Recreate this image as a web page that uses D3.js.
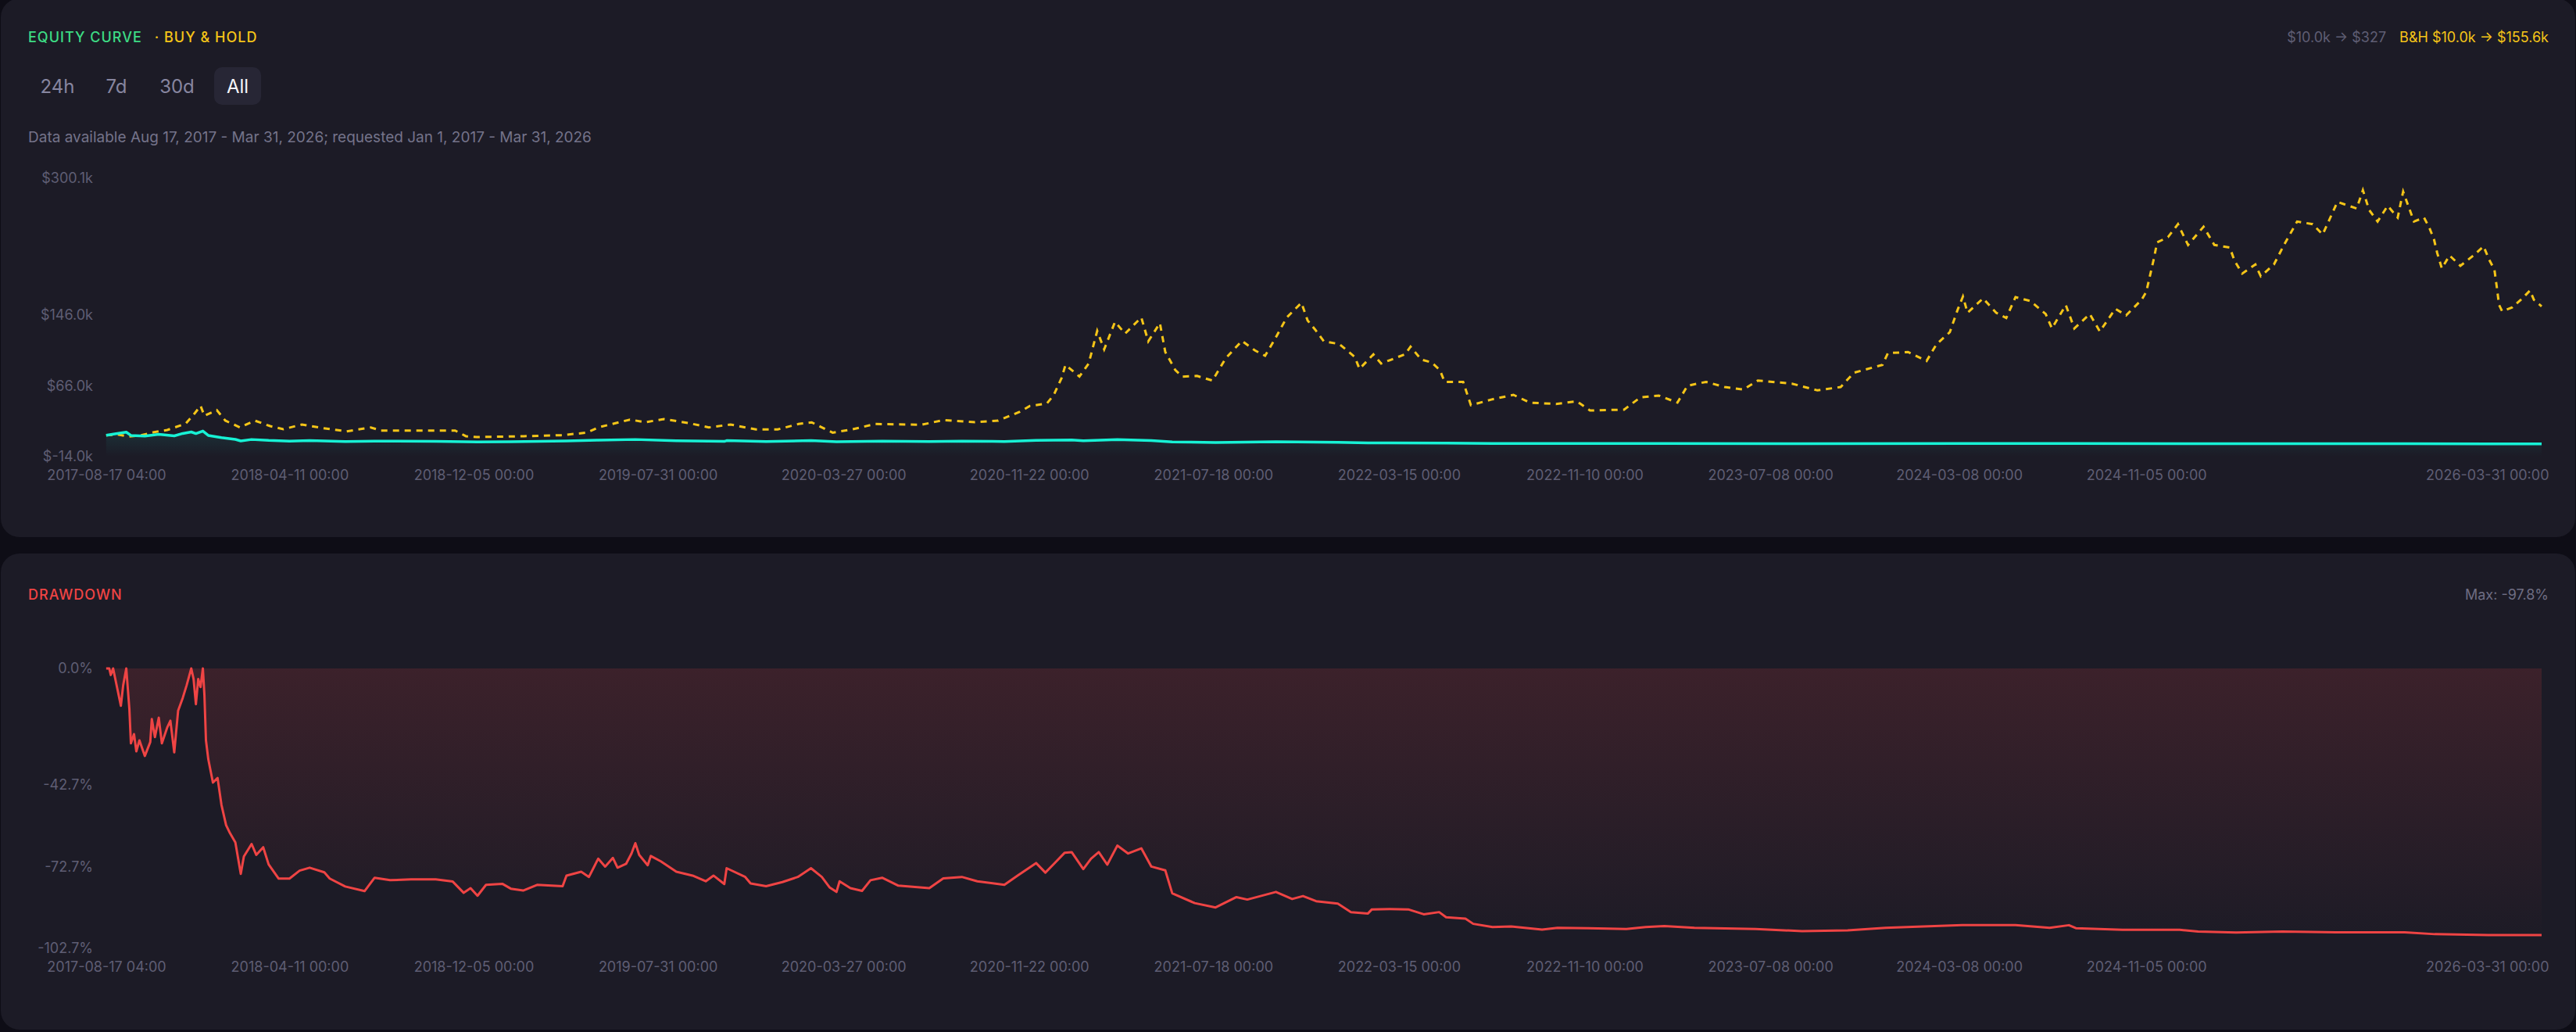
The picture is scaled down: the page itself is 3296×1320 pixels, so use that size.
<!DOCTYPE html>
<html>
<head>
<meta charset="utf-8">
<script src="https://cdn.jsdelivr.net/npm/d3@7"></script>
<style>
body { margin: 0; background: #0e0d16; }
svg { display: block; font-family: Inter, "Noto Sans", sans-serif; }
</style>
</head>
<body>
<svg id="chart" width="3296" height="1320"></svg>
<script>
// buy & hold value, $k
var bhDates = ["2017-08-17","2017-09-01","2017-09-15","2017-10-01","2017-10-18","2017-11-04","2017-11-28","2017-12-10","2017-12-17","2017-12-22",
    "2018-01-07","2018-01-18","2018-02-06","2018-02-25","2018-03-17","2018-04-03","2018-04-27","2018-05-25","2018-06-24","2018-07-25",
    "2018-08-07","2018-09-25","2018-11-11","2018-11-25","2018-12-09","2019-02-08","2019-03-28","2019-04-30","2019-05-15","2019-06-25",
    "2019-07-15","2019-08-08","2019-09-08","2019-10-05","2019-11-02","2019-12-05","2020-01-02","2020-01-29","2020-02-15","2020-03-13",
    "2020-04-07","2020-05-07","2020-06-21","2020-07-06","2020-08-03","2020-09-13","2020-10-13","2020-11-10","2020-11-23","2020-12-15",
    "2020-12-24","2021-01-03","2021-01-08","2021-01-26","2021-02-07","2021-02-18","2021-02-27","2021-03-13","2021-03-26","2021-04-16",
    "2021-04-25","2021-05-10","2021-05-17","2021-05-30","2021-06-08","2021-06-27","2021-07-17","2021-08-03","2021-08-24","2021-09-10",
    "2021-09-23","2021-10-06","2021-10-21","2021-11-09","2021-11-17","2021-11-27","2021-12-08","2021-12-28","2022-01-17","2022-01-23",
    "2022-02-10","2022-02-20","2022-03-23","2022-03-30","2022-04-13","2022-04-26","2022-05-07","2022-05-13","2022-06-06","2022-06-16",
    "2022-07-14","2022-08-10","2022-08-31","2022-10-04","2022-10-31","2022-11-17","2022-12-31","2023-01-21","2023-02-14","2023-03-10",
    "2023-03-23","2023-04-16","2023-05-10","2023-06-03","2023-06-22","2023-08-05","2023-09-07","2023-10-07","2023-10-24","2023-11-30",
    "2023-12-07","2024-01-02","2024-01-26","2024-02-08","2024-02-25","2024-03-06","2024-03-13","2024-03-19","2024-04-08","2024-04-25",
    "2024-05-08","2024-05-20","2024-06-08","2024-06-28","2024-07-06","2024-07-24","2024-08-04","2024-08-24","2024-09-06","2024-09-26",
    "2024-10-10","2024-10-30","2024-11-05","2024-11-15","2024-11-19","2024-12-03","2024-12-16","2024-12-29","2025-01-18","2025-02-01",
    "2025-02-21","2025-02-27","2025-03-09","2025-03-26","2025-04-02","2025-04-19","2025-05-02","2025-05-19","2025-06-08","2025-06-21",
    "2025-07-10","2025-08-04","2025-08-12","2025-08-20","2025-08-31","2025-09-13","2025-09-26","2025-10-03","2025-10-17","2025-10-30",
    "2025-11-06","2025-11-12","2025-11-16","2025-11-22","2025-12-02","2025-12-16","2026-01-02","2026-01-15","2026-01-22","2026-01-29",
    "2026-02-01","2026-02-04","2026-02-08","2026-02-21","2026-03-06","2026-03-16","2026-03-21","2026-03-31"];
var bhValues = [10.0,11.0,8.6,10.0,13.6,16.0,23.3,35.4,43.4,32.0,
    38.5,26.6,18.9,26.6,20.4,16.9,22.2,18.0,14.5,18.9,
    15.4,15.4,15.4,9.0,8.1,9.0,10.1,13.0,18.9,27.7,
    24.8,28.3,24.0,18.9,22.2,16.6,16.6,22.8,24.6,13.0,
    16.6,22.8,22.2,21.9,27.2,24.8,26.6,36.6,43.1,46.0,
    55.7,74.8,89.5,76.3,91.0,127.8,107.0,138.0,124.8,143.0,
    116.0,136.6,104.0,83.6,76.3,77.0,71.8,96.8,116.6,105.7,
    99.8,119.0,143.0,159.5,139.5,129.0,116.0,113.0,98.4,85.0,
    101.3,91.0,101.5,110.0,95.4,92.4,83.6,70.3,70.3,44.0,
    50.7,55.7,46.9,45.4,48.4,38.0,39.0,52.8,54.8,46.9,
    66.0,70.3,64.5,61.6,71.8,68.3,60.7,64.5,80.6,89.5,
    102.7,104.0,93.9,113.0,126.3,151.3,166.6,148.3,164.5,148.3,
    142.4,166.0,161.6,146.9,130.7,157.0,130.7,146.9,127.2,152.8,
    145.4,163.0,171.9,210.0,227.7,233.6,248.3,224.8,245.4,224.8,
    221.9,207.2,192.5,202.8,189.5,202.8,224.8,251.3,248.3,236.6,
    273.4,266.0,286.6,264.4,251.3,269.0,255.7,285.0,251.3,255.7,
    244.0,230.8,216.0,198.4,213.0,201.3,213.0,223.3,208.6,196.9,
    177.8,157.2,150.0,154.4,164.5,173.4,163.0,155.6];

// strategy equity, $k
var eqDates = ["2017-08-17","2017-08-28","2017-09-12","2017-09-18","2017-10-06","2017-10-24","2017-11-13","2017-11-24","2017-12-05","2017-12-11",
    "2017-12-20","2017-12-27","2018-01-13","2018-01-31","2018-02-07","2018-02-21","2018-03-15","2018-04-11","2018-05-07","2018-06-22",
    "2018-07-30","2018-10-17","2018-12-10","2019-01-22","2019-04-04","2019-05-15","2019-07-02","2019-08-24","2019-10-25","2019-10-28",
    "2019-12-18","2020-02-14","2020-03-18","2020-05-16","2020-07-16","2020-08-27","2020-10-21","2020-12-01","2021-01-16","2021-01-31",
    "2021-03-16","2021-04-29","2021-05-26","2021-07-21","2021-10-07","2021-12-26","2022-02-03","2022-05-15","2022-07-14","2022-11-15",
    "2023-02-21","2023-08-18","2024-03-12","2024-08-06","2025-03-01","2025-10-05","2026-01-21","2026-03-31"];
var eqValues = [10.0,11.5,13.6,9.9,9.2,11.1,9.4,12.1,13.8,12.0,
    14.8,9.9,7.4,5.4,3.6,5.3,4.2,3.4,4.0,3.0,
    3.4,3.3,2.5,2.8,3.6,4.5,5.3,3.8,3.1,4.0,
    3.0,4.0,2.7,3.4,2.9,3.5,3.0,4.2,4.8,3.9,
    5.2,4.0,2.6,1.8,2.7,2.0,1.5,1.29,0.75,0.70,
    0.81,0.53,0.86,0.70,0.46,0.47,0.33,0.327];

// drawdown, %
var ddDates = ["2017-08-17","2017-08-21","2017-08-23","2017-08-26","2017-09-05","2017-09-08","2017-09-12","2017-09-16","2017-09-18","2017-09-22",
    "2017-09-25","2017-09-29","2017-10-06","2017-10-13","2017-10-15","2017-10-19","2017-10-24","2017-10-28","2017-11-04","2017-11-08",
    "2017-11-13","2017-11-18","2017-11-24","2017-11-29","2017-12-05","2017-12-08","2017-12-11","2017-12-14","2017-12-17","2017-12-20",
    "2017-12-22","2017-12-24","2017-12-27","2018-01-02","2018-01-08","2018-01-13","2018-01-19","2018-01-24","2018-01-31","2018-02-07",
    "2018-02-11","2018-02-21","2018-02-27","2018-03-08","2018-03-15","2018-03-28","2018-04-11","2018-04-24","2018-05-07","2018-05-26",
    "2018-06-02","2018-06-22","2018-07-17","2018-07-30","2018-08-19","2018-09-15","2018-10-17","2018-11-08","2018-11-22","2018-12-01",
    "2018-12-10","2018-12-21","2019-01-11","2019-01-22","2019-02-07","2019-02-25","2019-03-30","2019-04-04","2019-04-23","2019-05-03",
    "2019-05-15","2019-05-24","2019-06-03","2019-06-09","2019-06-20","2019-06-27","2019-07-02","2019-07-07","2019-07-18","2019-07-22",
    "2019-08-04","2019-08-24","2019-09-14","2019-10-01","2019-10-11","2019-10-25","2019-10-28","2019-11-21","2019-11-28","2019-12-18",
    "2020-01-08","2020-01-28","2020-02-14","2020-02-28","2020-03-09","2020-03-18","2020-03-22","2020-04-05","2020-04-20","2020-05-01",
    "2020-05-16","2020-06-06","2020-07-16","2020-08-03","2020-08-27","2020-09-16","2020-10-21","2020-11-07","2020-12-01","2020-12-13",
    "2020-12-24","2021-01-07","2021-01-16","2021-01-31","2021-02-10","2021-02-20","2021-03-03","2021-03-16","2021-03-30","2021-04-16",
    "2021-04-29","2021-05-17","2021-05-26","2021-06-24","2021-07-21","2021-08-17","2021-08-31","2021-10-07","2021-10-28","2021-11-11",
    "2021-11-28","2021-12-26","2022-01-12","2022-02-03","2022-02-08","2022-03-03","2022-03-27","2022-04-16","2022-05-06","2022-05-15",
    "2022-06-09","2022-06-19","2022-07-14","2022-08-07","2022-09-16","2022-10-06","2022-11-15","2023-01-03","2023-01-28","2023-02-21",
    "2023-04-01","2023-06-19","2023-08-18","2023-10-16","2023-12-04","2024-01-22","2024-03-12","2024-05-20","2024-07-03","2024-07-28",
    "2024-08-06","2024-10-05","2024-12-18","2025-01-11","2025-03-01","2025-04-30","2025-07-08","2025-10-05","2025-11-13","2026-01-21",
    "2026-03-31"];
var ddValues = [0,0,-2.4,0,-13.7,-6.2,0,-14.9,-27.5,-24.1,
    -30.4,-26.4,-32.1,-27.0,-18.6,-25.2,-18.1,-27.5,-21.6,-19.2,
    -30.8,-15.5,-10.8,-6.2,0,-3.9,-13.1,-3.9,-6.8,0,
    -9.7,-26.4,-33.3,-41.9,-40.2,-50.0,-57.5,-60.4,-63.8,-75.4,
    -69.0,-64.4,-68.4,-65.6,-71.9,-77.1,-77.1,-74.2,-73.1,-74.8,
    -77.1,-80.0,-81.7,-76.8,-77.7,-77.4,-77.4,-78.2,-82.3,-80.6,
    -83.4,-79.4,-79.0,-80.8,-81.5,-79.4,-79.9,-76.0,-74.6,-76.5,
    -69.8,-72.7,-69.5,-73.1,-71.7,-67.9,-64.1,-68.4,-72.2,-68.8,
    -70.8,-74.6,-76.0,-78.1,-76.0,-79.1,-73.3,-76.5,-78.9,-79.9,
    -78.4,-76.5,-73.3,-76.5,-80.3,-82.0,-78.1,-80.6,-81.6,-77.7,
    -76.8,-79.7,-80.6,-77.0,-76.5,-78.1,-79.4,-76.0,-71.4,-74.9,
    -71.7,-67.6,-67.4,-73.6,-69.8,-67.4,-72.0,-65.0,-67.9,-66.0,
    -72.7,-74.1,-82.5,-86.1,-87.7,-83.9,-84.8,-82.0,-84.6,-83.5,
    -85.4,-86.3,-89.4,-89.9,-88.4,-88.3,-88.4,-90.2,-89.4,-91.3,
    -91.8,-93.7,-94.9,-94.7,-95.8,-95.2,-95.3,-95.6,-94.9,-94.5,
    -95.2,-95.6,-96.4,-96.1,-95.2,-94.7,-94.2,-94.2,-95.2,-94.2,
    -95.3,-95.9,-95.9,-96.5,-96.9,-96.5,-96.8,-96.8,-97.5,-97.8,
    -97.8];

var xTickLabels = ["2017-08-17 04:00","2018-04-11 00:00","2018-12-05 00:00","2019-07-31 00:00","2020-03-27 00:00",
    "2020-11-22 00:00","2021-07-18 00:00","2022-03-15 00:00","2022-11-10 00:00","2023-07-08 00:00",
    "2024-03-08 00:00","2024-11-05 00:00","2026-03-31 00:00"];
var equityTicks = [-14.0, 66.0, 146.0, 300.1];
var ddTicks = [0, -42.7, -72.7, -102.7];
var ranges = ["24h", "7d", "30d", "All"];

var parseDay = d3.utcParse("%Y-%m-%d"),
    parseTick = d3.utcParse("%Y-%m-%d %H:%M"),
    fmtTick = d3.utcFormat("%Y-%m-%d %H:%M");

var svg = d3.select("#chart");
var defs = svg.append("defs");

var x = d3.scaleUtc()
    .domain([parseTick(xTickLabels[0]), parseTick(xTickLabels[xTickLabels.length - 1])])
    .range([136, 3252]);
var yEq = d3.scaleLinear().domain([-14.0, 300.1]).range([584, 228]);
var yDD = d3.scaleLinear().domain([-102.7, 0]).range([1213, 855]);

var zip = function(dates, values) {
    return dates.map(function(d, i) { return { date: parseDay(d), value: values[i] }; });
};
var bh = zip(bhDates, bhValues),
    eq = zip(eqDates, eqValues),
    dd = zip(ddDates, ddValues);

// panels
svg.append("rect").attr("x", 1).attr("y", -2).attr("width", 3294).attr("height", 689)
    .attr("rx", 24).attr("fill", "#1c1b26");
svg.append("rect").attr("x", 1).attr("y", 708).attr("width", 3294).attr("height", 609)
    .attr("rx", 24).attr("fill", "#1c1b26");

// header, top panel
var title = svg.append("text").attr("x", 36).attr("y", 47).attr("dominant-baseline", "central")
    .attr("font-size", 18).attr("font-weight", 500).attr("letter-spacing", 1);
title.append("tspan").attr("fill", "#3ddc84").text("EQUITY CURVE");
title.append("tspan").attr("fill", "#f5c518").attr("dx", 16).text("· BUY & HOLD");

var summary = svg.append("text").attr("x", 3261).attr("y", 47).attr("dominant-baseline", "central")
    .attr("text-anchor", "end").attr("font-size", 18);
summary.append("tspan").attr("fill", "#5f5e74").text("$10.0k → $327");
summary.append("tspan").attr("fill", "#f5c518").attr("dx", 17).text("B&H $10.0k → $155.6k");

var btnX = [73.5, 149, 226.5, 304];
svg.append("rect").attr("x", 274).attr("y", 86).attr("width", 60).attr("height", 48)
    .attr("rx", 10).attr("fill", "#272635");
svg.selectAll(".range")
    .data(ranges)
  .enter()
    .append("text")
    .attr("class", "range")
    .attr("x", function(d, i) { return btnX[i]; })
    .attr("y", 110)
    .attr("text-anchor", "middle")
    .attr("dominant-baseline", "central")
    .attr("font-size", 24)
    .attr("fill", function(d) { return d === "All" ? "#f4f4f8" : "#8786a0"; })
    .text(function(d) { return d; });

svg.append("text").attr("x", 36).attr("y", 175).attr("dominant-baseline", "central")
    .attr("font-size", 19).attr("fill", "#74738a")
    .text("Data available Aug 17, 2017 - Mar 31, 2026; requested Jan 1, 2017 - Mar 31, 2026");

// header, drawdown panel
svg.append("text").attr("x", 36).attr("y", 760).attr("dominant-baseline", "central")
    .attr("font-size", 18).attr("font-weight", 500).attr("letter-spacing", 1)
    .attr("fill", "#ef4444").text("DRAWDOWN");
svg.append("text").attr("x", 3261).attr("y", 760).attr("dominant-baseline", "central")
    .attr("text-anchor", "end").attr("font-size", 18).attr("fill", "#6e6d82")
    .text("Max: -97.8%");

// axes
var drawX = function(yPos) {
    var g = svg.append("g").attr("transform", "translate(0," + yPos + ")")
        .call(d3.axisBottom(x).tickValues(xTickLabels.map(parseTick)).tickSize(0).tickPadding(0).tickFormat(fmtTick));
    g.attr("font-family", null).attr("font-size", 18);
    g.select(".domain").remove();
    g.selectAll("text").attr("y", 0).attr("dy", null).attr("dominant-baseline", "central").attr("fill", "#5f5e74");
    g.selectAll(".tick").filter(function(d, i, n) { return i === n.length - 1; })
        .select("text").attr("text-anchor", "end").attr("dx", 9);
};
var drawY = function(scale, ticks, fmt) {
    var g = svg.append("g").attr("transform", "translate(136,0)")
        .call(d3.axisLeft(scale).tickValues(ticks).tickSize(0).tickPadding(17).tickFormat(fmt));
    g.attr("font-family", null).attr("font-size", 18);
    g.select(".domain").remove();
    g.selectAll("text").attr("fill", "#5f5e74");
};
drawX(607);
drawX(1236);
drawY(yEq, equityTicks, function(v) { return "$" + v.toFixed(1) + "k"; });
drawY(yDD, ddTicks, function(v) { return v.toFixed(1) + "%"; });

// gradients
var eqGrad = defs.append("linearGradient").attr("id", "eqFill")
    .attr("gradientUnits", "userSpaceOnUse").attr("x1", 0).attr("x2", 0).attr("y1", 545).attr("y2", 584);
eqGrad.append("stop").attr("offset", 0).attr("stop-color", "#17f2d5").attr("stop-opacity", 0.12);
eqGrad.append("stop").attr("offset", 1).attr("stop-color", "#17f2d5").attr("stop-opacity", 0);

var ddGrad = defs.append("linearGradient").attr("id", "ddFill")
    .attr("gradientUnits", "userSpaceOnUse").attr("x1", 0).attr("x2", 0).attr("y1", 855).attr("y2", 1213);
ddGrad.append("stop").attr("offset", 0).attr("stop-color", "#ef4444").attr("stop-opacity", 0.15);
ddGrad.append("stop").attr("offset", 1).attr("stop-color", "#ef4444").attr("stop-opacity", 0);

// equity panel marks
svg.append("path").datum(eq)
    .attr("fill", "url(#eqFill)")
    .attr("d", d3.area().x(function(d) { return x(d.date); }).y0(yEq(-14.0)).y1(function(d) { return yEq(d.value); }));

svg.append("path").datum(bh)
    .attr("fill", "none").attr("stroke", "#f5c518").attr("stroke-width", 3)
    .attr("stroke-dasharray", "8,7")
    .attr("d", d3.line().x(function(d) { return x(d.date); }).y(function(d) { return yEq(d.value); }));

svg.append("path").datum(eq)
    .attr("fill", "none").attr("stroke", "#17f2d5").attr("stroke-width", 3.5)
    .attr("stroke-linejoin", "round")
    .attr("d", d3.line().x(function(d) { return x(d.date); }).y(function(d) { return yEq(d.value); }));

// drawdown panel marks
svg.append("path").datum(dd)
    .attr("fill", "url(#ddFill)")
    .attr("d", d3.area().x(function(d) { return x(d.date); }).y0(yDD(0)).y1(function(d) { return yDD(d.value); }));

svg.append("path").datum(dd)
    .attr("fill", "none").attr("stroke", "#ef4444").attr("stroke-width", 3)
    .attr("stroke-linejoin", "round")
    .attr("d", d3.line().x(function(d) { return x(d.date); }).y(function(d) { return yDD(d.value); }));
</script>
</body>
</html>
